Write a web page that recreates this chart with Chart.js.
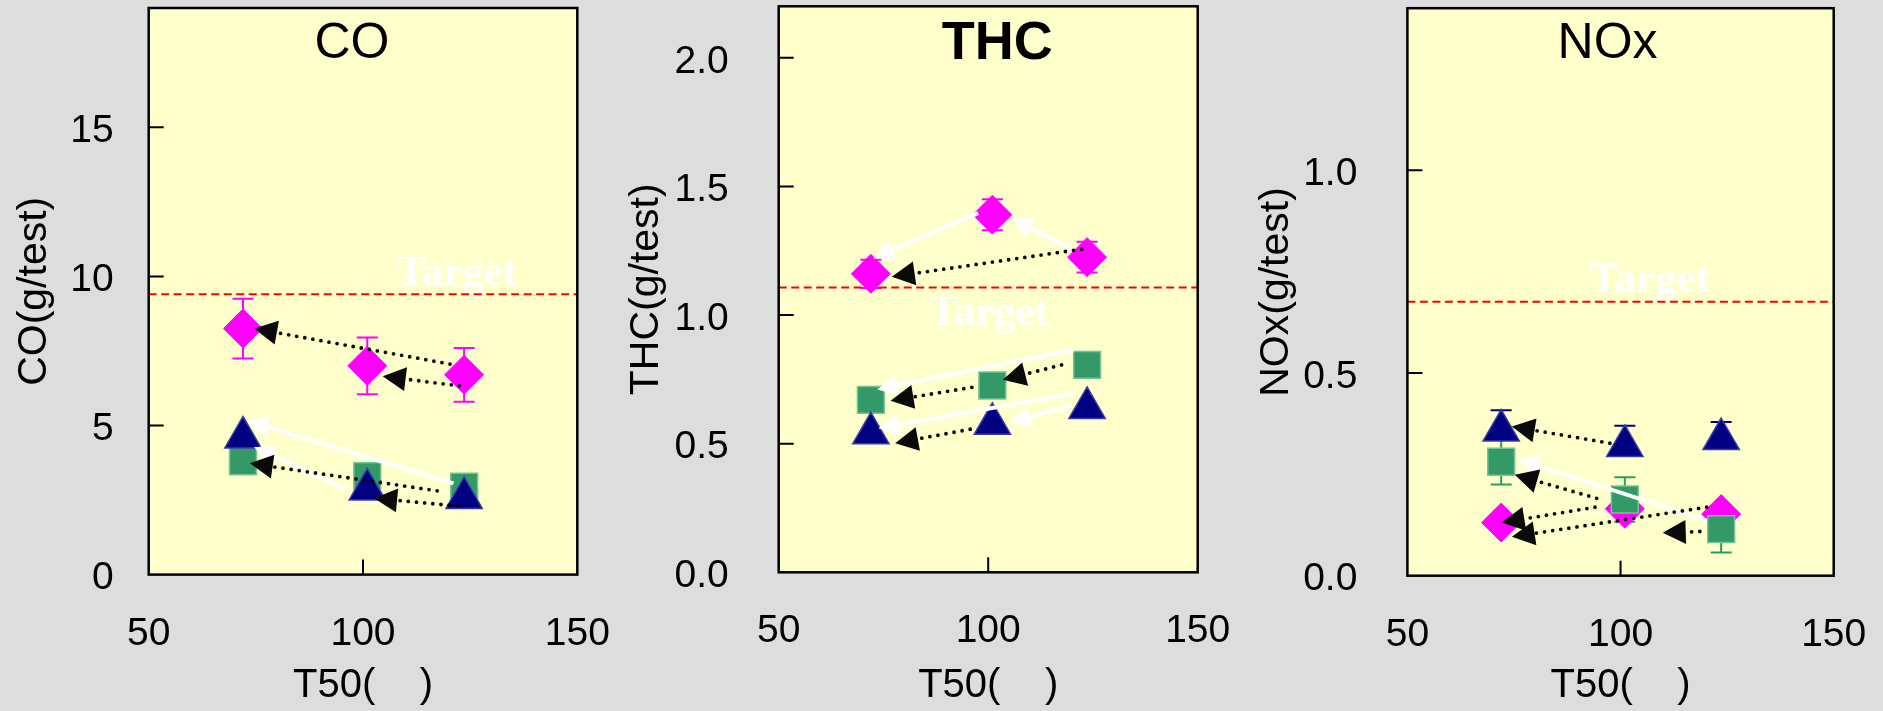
<!DOCTYPE html>
<html>
<head>
<meta charset="utf-8">
<script src="https://cdn.jsdelivr.net/npm/chart.js@4.4.1/dist/chart.umd.min.js"></script>
<style>
  body { margin: 0; background: #dddddd; width: 1883px; height: 711px; overflow: hidden; position: relative; }
  .panel { position: absolute; top: 0; height: 711px; }
</style>
</head>
<body>
<div class="panel" style="left:0;width:630px"><canvas id="co"></canvas></div>
<div class="panel" style="left:615px;width:630px"><canvas id="thc"></canvas></div>
<div class="panel" style="left:1245px;width:638px"><canvas id="nox"></canvas></div>
<script>
'use strict';
Chart.defaults.font.family = '"Liberation Sans", Arial, sans-serif';
Chart.defaults.color = '#000';

// T50 of the three catalysts
var t50 = [72, 101, 123.6];

// CO (g/test)
var coDiamond = [8.25, 7.0, 6.7];
var coDiamondErr = [1.0, 0.95, 0.9];
var coSquare = [3.8, 3.3, 2.95];
var coTriangle = [4.6, 2.85, 2.57];
var coTarget = 9.4;
// arrows: [from T50, from value, to T50, to value]
var coDotted = [[120.3, 7.06, 74.6, 8.25], [122.5, 6.33, 104.6, 6.65], [117.3, 2.81, 73.6, 3.73], [122.0, 2.30, 102.6, 2.56]];
var coWhite = [[121.1, 3.06, 72.9, 5.16], [96.0, 2.86, 74.6, 4.28]];

// THC (g/test)
var thcDiamond = [1.16, 1.39, 1.225];
var thcDiamondErr = [0.055, 0.06, 0.06];
var thcSquare = [0.67, 0.726, 0.806];
var thcTriangle = [0.54, 0.577, 0.639];
var thcTarget = 1.107;
var thcDotted = [[122.3, 1.256, 77.0, 1.149], [117.5, 0.806, 103.5, 0.748], [96.1, 0.719, 76.7, 0.667], [95.7, 0.556, 77.8, 0.502]];
var thcWhite = [[97.6, 1.396, 72.6, 1.221], [120.3, 1.253, 105.6, 1.376], [120.3, 0.864, 73.5, 0.711], [120.7, 0.696, 73.8, 0.56], [119.9, 0.647, 105.2, 0.582]];

// NOx (g/test)
var noxDiamond = [0.131, 0.165, 0.152];
var noxSquare = [0.281, 0.188, 0.115];
var noxSquareErr = [0.056, 0.055, 0.058];
var noxTriangle = [0.358, 0.32, 0.337];
var noxTriangleErr = [0.05, 0.05, 0.042];
var noxTarget = 0.676;
var noxDotted = [[97.5, 0.327, 74.5, 0.368], [94.4, 0.191, 75.2, 0.249], [94.0, 0.169, 72.1, 0.131], [120.2, 0.169, 74.5, 0.096], [118.6, 0.109, 109.9, 0.106]];
var noxWhite = [[120.2, 0.136, 76.0, 0.287]];

var MAGENTA = '#ff00ff', GREEN = '#339966', NAVY = '#000080';

function points(ys) {
    return t50.map(function (x, i) { return {x: x, y: ys[i]}; });
}

function markerSets(tri, sq, dia, target) {
    return [
        {data: points(tri), pointStyle: 'triangle', pointRadius: 21, backgroundColor: NAVY, borderColor: '#3b3ba6', borderWidth: 1.5},
        {data: points(sq), pointStyle: 'rect', pointRadius: 19, backgroundColor: GREEN, borderColor: '#74c497', borderWidth: 1.5},
        {data: points(dia), pointStyle: 'rectRot', pointRadius: 19.5, backgroundColor: MAGENTA, borderColor: MAGENTA, borderWidth: 1},
        {data: [{x: 50, y: target}, {x: 150, y: target}], showLine: true, pointRadius: 0,
         borderColor: '#ff0000', borderWidth: 2, borderDash: [8, 4.5]}
    ];
}

function arrow(ctx, x0, y0, x1, y1, color, dotted) {
    var ang = Math.atan2(y1 - y0, x1 - x0);
    var len = dotted ? 23 : 21, half = dotted ? 12 : 10.5;
    var bx = x1 - Math.cos(ang) * len, by = y1 - Math.sin(ang) * len;
    ctx.beginPath();
    ctx.moveTo(x0, y0);
    ctx.lineTo(bx, by);
    ctx.strokeStyle = color;
    if (dotted) {
        ctx.setLineDash([0, 8.2]);
        ctx.lineCap = 'round';
        ctx.lineWidth = 3.8;
    } else {
        ctx.setLineDash([]);
        ctx.lineCap = 'butt';
        ctx.lineWidth = 4;
    }
    ctx.stroke();
    ctx.setLineDash([]);
    ctx.beginPath();
    ctx.moveTo(x1, y1);
    ctx.lineTo(bx + Math.sin(ang) * half, by - Math.cos(ang) * half);
    ctx.lineTo(bx - Math.sin(ang) * half, by + Math.cos(ang) * half);
    ctx.closePath();
    ctx.fillStyle = color;
    ctx.fill();
}

function panelPlugin(p) {
    return {
        id: 'panel',
        beforeDraw: function (chart) {
            var a = chart.chartArea, ctx = chart.ctx;
            ctx.save();
            ctx.fillStyle = '#ffffcc';
            ctx.fillRect(a.left, a.top, a.right - a.left, a.bottom - a.top);
            ctx.restore();
        },
        beforeDatasetsDraw: function (chart) {
            var ctx = chart.ctx, xs = chart.scales.x, ys = chart.scales.y;
            ctx.save();
            ctx.font = 'bold 43px "Liberation Serif", "Times New Roman", serif';
            ctx.fillStyle = '#ffffff';
            ctx.textAlign = 'center';
            ctx.textBaseline = 'alphabetic';
            ctx.fillText('Target', xs.getPixelForValue(p.targetAt[0]), ys.getPixelForValue(p.targetAt[1]));
            ctx.lineWidth = 2;
            p.errors.forEach(function (e) {
                ctx.strokeStyle = e.color;
                t50.forEach(function (t, i) {
                    var x = xs.getPixelForValue(t);
                    var hi = ys.getPixelForValue(e.ys[i] + e.plus[i]);
                    var lo = ys.getPixelForValue(e.ys[i] - e.minus[i]);
                    ctx.beginPath();
                    ctx.moveTo(x, lo); ctx.lineTo(x, hi);
                    if (e.plus[i] > 0) { ctx.moveTo(x - 10.5, hi); ctx.lineTo(x + 10.5, hi); }
                    if (e.minus[i] > 0) { ctx.moveTo(x - 10.5, lo); ctx.lineTo(x + 10.5, lo); }
                    ctx.stroke();
                });
            });
            ctx.restore();
        },
        afterDatasetsDraw: function (chart) {
            var ctx = chart.ctx, xs = chart.scales.x, ys = chart.scales.y;
            ctx.save();
            function draw(list, color, dotted) {
                list.forEach(function (r) {
                    arrow(ctx, xs.getPixelForValue(r[0]), ys.getPixelForValue(r[1]),
                        xs.getPixelForValue(r[2]), ys.getPixelForValue(r[3]), color, dotted);
                });
            }
            draw(p.white, '#ffffff', false);
            draw(p.dotted, '#0a0a0a', true);
            ctx.restore();
        },
        afterDraw: function (chart) {
            var a = chart.chartArea, ctx = chart.ctx, xs = chart.scales.x, ys = chart.scales.y;
            ctx.save();
            ctx.strokeStyle = '#000';
            ctx.lineWidth = 2;
            ctx.beginPath();
            ys.ticks.forEach(function (t) {
                if (t.value > ys.min && t.value < ys.max) {
                    var y = ys.getPixelForValue(t.value);
                    ctx.moveTo(a.left, y); ctx.lineTo(a.left + 15, y);
                }
            });
            xs.ticks.forEach(function (t) {
                if (t.value > xs.min && t.value < xs.max) {
                    var x = xs.getPixelForValue(t.value);
                    ctx.moveTo(x, a.bottom); ctx.lineTo(x, a.bottom - 15);
                }
            });
            ctx.stroke();
            ctx.lineWidth = 2.5;
            ctx.strokeRect(a.left, a.top, a.right - a.left, a.bottom - a.top);
            ctx.font = p.titleFont;
            ctx.fillStyle = '#000';
            ctx.textAlign = 'center';
            ctx.textBaseline = 'middle';
            ctx.fillText(p.title, (a.left + a.right) / 2 + p.titleDx, 44);
            ctx.restore();
        }
    };
}

// drop the extra room Chart.js reserves for edge labels
function noEdgePadding(s) {
    s.paddingTop = 0; s.paddingBottom = 0; s.paddingLeft = 0; s.paddingRight = 0;
}

function buildPanel(id, p) {
    new Chart(document.getElementById(id), {
        type: 'scatter',
        data: {datasets: markerSets(p.tri, p.sq, p.dia, p.target)},
        plugins: [panelPlugin(p)],
        options: {
            responsive: true,
            maintainAspectRatio: false,
            animation: false,
            events: [],
            layout: {autoPadding: false, padding: {top: p.top, right: p.right, bottom: 0, left: 0}},
            plugins: {legend: {display: false}, tooltip: {enabled: false}},
            scales: {
                x: {
                    type: 'linear', min: 50, max: 150,
                    border: {display: false},
                    grid: {display: false, drawTicks: false},
                    ticks: {stepSize: 50, padding: 36, maxRotation: 0, font: {size: 39}},
                    title: {display: true, text: 'T50(    )', font: {size: 40}, padding: {top: 0, bottom: 1}},
                    afterFit: function (s) { s.height = p.xHeight; noEdgePadding(s); }
                },
                y: {
                    min: 0, max: p.yMax,
                    border: {display: false},
                    grid: {display: false, drawTicks: false},
                    ticks: {stepSize: p.yStep, includeBounds: false, padding: p.yPad, labelOffset: 4, font: {size: 39},
                        callback: function (v) { return p.yDigits ? v.toFixed(p.yDigits) : String(v); }},
                    title: {display: true, text: p.yTitle, font: {size: 41}, padding: {top: p.yTitlePad, bottom: 0}},
                    afterFit: function (s) { s.width = p.yWidth; noEdgePadding(s); }
                }
            }
        }
    });
}

buildPanel('co', {
    tri: coTriangle, sq: coSquare, dia: coDiamond, target: coTarget,
    errors: [{ys: coDiamond, plus: coDiamondErr, minus: coDiamondErr, color: MAGENTA}],
    dotted: coDotted, white: coWhite, targetAt: [122.0, 9.7],
    title: 'CO', titleFont: '50px "Liberation Sans", Arial, sans-serif', titleDx: -11,
    yTitle: 'CO(g/test)', yMax: 19, yStep: 5, yDigits: 0,
    top: 8, right: 52.7, xHeight: 136.4, yWidth: 148.7, yPad: 35, yTitlePad: 10.4
});

buildPanel('thc', {
    tri: thcTriangle, sq: thcSquare, dia: thcDiamond, target: thcTarget,
    errors: [{ys: thcDiamond, plus: thcDiamondErr, minus: thcDiamondErr, color: MAGENTA}],
    dotted: thcDotted, white: thcWhite, targetAt: [100.2, 0.961],
    title: 'THC', titleFont: 'bold 54px "Liberation Sans", Arial, sans-serif', titleDx: 9,
    yTitle: 'THC(g/test)', yMax: 2.2, yStep: 0.5, yDigits: 1,
    top: 6.3, right: 47.3, xHeight: 138.7, yWidth: 163.7, yPad: 50, yTitlePad: 7.4
});

buildPanel('nox', {
    tri: noxTriangle, sq: noxSquare, dia: noxDiamond, target: noxTarget,
    errors: [{ys: noxSquare, plus: noxSquareErr, minus: noxSquareErr, color: GREEN},
             {ys: noxTriangle, plus: noxTriangleErr, minus: [0, 0, 0], color: NAVY}],
    dotted: noxDotted, white: noxWhite, targetAt: [106.9, 0.70],
    title: 'NOx', titleFont: '50px "Liberation Sans", Arial, sans-serif', titleDx: -13,
    yTitle: 'NOx(g/test)', yMax: 1.4, yStep: 0.5, yDigits: 1,
    top: 8.2, right: 49.3, xHeight: 135.3, yWidth: 162.4, yPad: 50, yTitlePad: 7.4
});
</script>
</body>
</html>
